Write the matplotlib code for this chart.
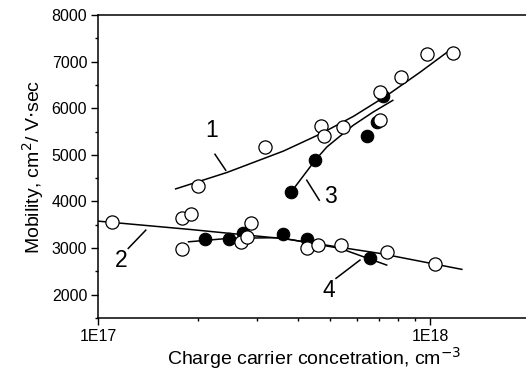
import matplotlib
matplotlib.use("Agg")
import matplotlib.pyplot as plt
from matplotlib.ticker import FixedLocator, NullFormatter, MultipleLocator

plt.rcParams['font.family'] = ['Liberation Sans', 'DejaVu Sans']

# open circles, upper branch (curve 1)
n1 = [1.99e17, 3.18e17, 4.67e17, 4.79e17, 5.45e17, 7.05e17, 7.05e17, 8.15e17, 9.75e17, 1.17e18]
mu1 = [4326, 5168, 5611, 5397, 5597, 6346, 5740, 6667, 7153, 7181]

# open circles, lower branch (curve 2)
n2 = [1.10e17, 1.79e17, 1.90e17, 1.79e17, 2.69e17, 2.80e17, 2.88e17, 4.25e17, 4.60e17, 5.37e17, 7.40e17, 1.03e18]
mu2 = [3549, 3648, 3720, 2978, 3134, 3241, 3541, 2993, 3063, 3063, 2907, 2656]

# filled circles, upper branch (curve 3)
n3 = [3.80e17, 4.50e17, 6.46e17, 6.90e17, 7.20e17]
mu3 = [4192, 4883, 5397, 5700, 6260]

# filled circles, lower branch (curve 4)
n4 = [2.09e17, 2.48e17, 2.72e17, 3.59e17, 4.26e17, 6.60e17]
mu4 = [3185, 3185, 3314, 3299, 3185, 2778]

# fit curves
fit1_n = [1.71e17, 2.44e17, 3.61e17, 4.66e17, 5.87e17, 7.39e17, 9.31e17, 1.16e18]
fit1_mu = [4269, 4621, 5080, 5446, 5826, 6270, 6770, 7273]
fit2_n = [1.0e17, 1.89e17, 3.65e17, 7.05e17, 1.245e18]
fit2_mu = [3577, 3399, 3198, 2885, 2543]
fit3_n = [3.80e17, 4.50e17, 4.88e17, 5.86e17, 6.73e17, 7.71e17]
fit3_mu = [4192, 4883, 5168, 5633, 5918, 6168]
fit4_n = [1.87e17, 2.46e17, 3.52e17, 5.35e17, 7.39e17]
fit4_mu = [3134, 3207, 3224, 2993, 2635]

fig = plt.figure(figsize=(5.26, 3.76), dpi=100)
ax = fig.add_axes([0.1869, 0.1543, 0.8211, 0.8059])

lw = 1.1
for fn, fm in [(fit1_n, fit1_mu), (fit2_n, fit2_mu), (fit3_n, fit3_mu), (fit4_n, fit4_mu)]:
    ax.plot(fn, fm, color='black', lw=lw, zorder=2)

ax.plot(n3, mu3, 'o', ms=9, mfc='black', mec='black', mew=0.8, zorder=3)
ax.plot(n4, mu4, 'o', ms=9, mfc='black', mec='black', mew=0.8, zorder=3)
ax.plot(n1, mu1, 'o', ms=9.5, mfc='white', mec='black', mew=0.9, zorder=4)
ax.plot(n2, mu2, 'o', ms=9.5, mfc='white', mec='black', mew=0.9, zorder=4)

# curve labels with leader lines
labels = [
    ('1', (2.196e17, 5526), (2.246e17, 5012), (2.42e17, 4669)),
    ('2', (1.176e17, 2742), (1.231e17, 2993), (1.39e17, 3384)),
    ('3', (4.99e17, 4097), (4.245e17, 4455), (4.63e17, 4027)),
    ('4', (4.96e17, 2100), (5.2e17, 2350), (6.14e17, 2742)),
]
for txt, tpos, p0, p1 in labels:
    ax.text(tpos[0], tpos[1], txt, fontsize=16.5, ha='center', va='center')
    ax.plot([p0[0], p1[0]], [p0[1], p1[1]], color='black', lw=lw)

ax.set_xscale('log')
ax.set_xlim(1e17, 2e18)
ax.set_ylim(1500, 8000)

ax.xaxis.set_major_locator(FixedLocator([1e17, 1e18]))
ax.set_xticklabels(['1E17', '1E18'])
ax.xaxis.set_minor_locator(FixedLocator([k * 1e17 for k in range(2, 10)] + [2e18]))
ax.xaxis.set_minor_formatter(NullFormatter())
ax.set_yticks([2000, 3000, 4000, 5000, 6000, 7000, 8000])
ax.yaxis.set_minor_locator(MultipleLocator(500))

ax.tick_params(which='major', direction='out', length=5, width=1, labelsize=11.5, pad=3)
ax.tick_params(which='minor', direction='out', length=2.5, width=1)
for s in ax.spines.values():
    s.set_linewidth(1.1)

ax.set_xlabel('Charge carrier concetration, cm$^{-3}$', fontsize=14, labelpad=1)
ax.set_ylabel('Mobility, cm$^{2}$/ V$\\cdot$sec', fontsize=14, labelpad=4)

fig.savefig('out.png', dpi=100)
